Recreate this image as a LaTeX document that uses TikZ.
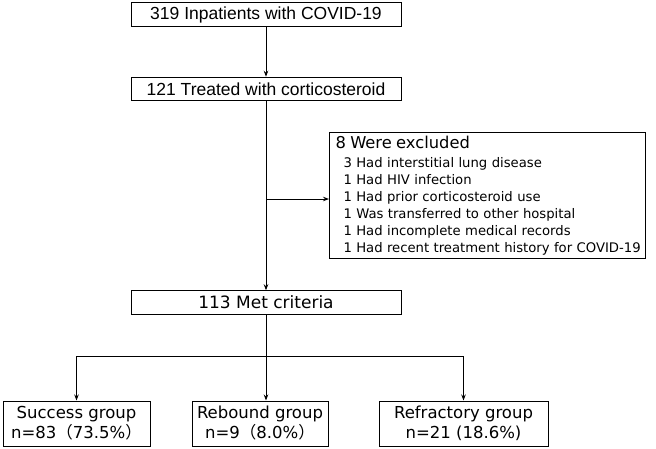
\documentclass[tikz,border=0pt]{standalone}
\usepackage{fontspec}
\setmainfont{DejaVu Sans}
\newfontfamily\arialfont{Liberation Sans}
\newfontfamily\cjkfont{Noto Sans CJK JP}
\usetikzlibrary{positioning, arrows.meta}

\begin{document}
\begin{tikzpicture}[
    x=1pt, y=-1pt,
    >={Stealth[length=6pt, width=4.5pt]},
    line width=0.9pt,
    mainbox/.style={draw, line width=1pt, minimum width=270pt,
                    minimum height=23.5pt, inner sep=0pt},
    topfont/.style={font=\arialfont\fontsize{17.5}{20}\selectfont},
    groupbox/.style={draw, line width=1pt, minimum height=45pt,
                     inner sep=0pt, align=center,
                     font=\fontsize{16.5}{20}\selectfont}
]
\useasboundingbox (0,0) rectangle (656,448);

%---------------- Main column ----------------
\node[mainbox, topfont] (inpat) at (266,14.5) {319 Inpatients with COVID-19};
\node[mainbox, topfont, below=50pt of inpat] (treated) {121 Treated with corticosteroid};
\node[mainbox, font=\fontsize{17}{20}\selectfont, below=189pt of treated] (met) {113 Met criteria};

\draw[->] (inpat) -- (treated);
\draw[->] (treated) -- (met);

%---------------- Exclusions ----------------
\node[draw, line width=1pt, anchor=north west, minimum height=126pt,
      text width=304pt, inner xsep=6pt, inner ysep=0pt, align=left,
      font=\fontsize{13.2}{17}\selectfont] (excl) at (329,132)
    {{\fontsize{16.3}{17}\selectfont 8 Were excluded}\\[2pt]
     \hspace*{8pt}3 Had interstitial lung disease\\
     \hspace*{8pt}1 Had HIV infection\\
     \hspace*{8pt}1 Had prior corticosteroid use\\
     \hspace*{8pt}1 Was transferred to other hospital\\
     \hspace*{8pt}1 Had incomplete medical records\\
     \hspace*{8pt}\mbox{1 Had recent treatment history for COVID-19}};

\coordinate (exjoin) at (266,199);
\draw[->] (exjoin) -- (exjoin -| excl.west);

%---------------- Outcome groups ----------------
\node[groupbox, minimum width=147pt] (succ) at (76.5,423.5)
    {Success group\\n=83{\cjkfont （}73.5\%{\cjkfont ）}};
\node[groupbox, minimum width=136pt] (reb) at (260,423.5)
    {Rebound group\\n=9{\cjkfont （}8.0\%{\cjkfont ）}};
\node[groupbox, minimum width=169pt] (refr) at (463.5,423.5)
    {Refractory group\\n=21 (18.6\%)};

\coordinate (split) at (266,356);
\draw (met) -- (split);
\draw[->] (split) -| (succ.north);
\draw[->] (split) -- (split |- reb.north);
\draw[->] (split) -| (refr.north);

\end{tikzpicture}
\end{document}
